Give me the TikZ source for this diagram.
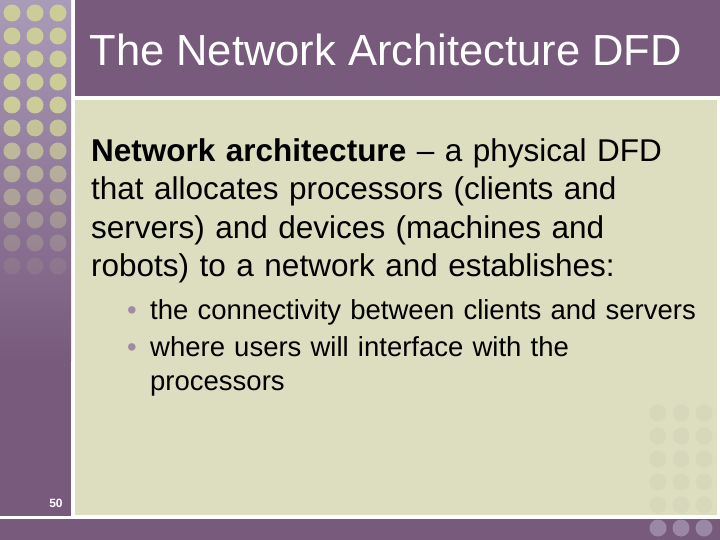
\documentclass[tikz,border=0pt]{standalone}
\usepackage{fontspec}
\setmainfont{Liberation Sans}
\usetikzlibrary{positioning}
\definecolor{plum}{RGB}{120,90,125}
\definecolor{lilac}{RGB}{170,155,185}
\definecolor{paper}{RGB}{221,221,192}
\definecolor{dotgreen}{RGB}{204,204,153}
\newcommand{\bul}{\makebox[23bp][l]{\color{plum!70}\textbullet}}
\begin{document}
\begin{tikzpicture}[x=1bp,y=-1bp,
    spot/.style={circle, inner sep=0pt, minimum size=17bp},
    bodytext/.style={anchor=north west, inner sep=0pt, align=left, font=\fontsize{31.5bp}{38.5bp}\selectfont},
    bullettext/.style={anchor=north west, inner sep=0pt, align=left, font=\fontsize{27.5bp}{34bp}\selectfont}
]
\useasboundingbox (0,0) rectangle (720,540);
\fill[white] (0,0) rectangle (720,540);
% side strip
\shade[top color=lilac, bottom color=plum] (0,0) rectangle (71,360);
\fill[plum] (0,359) rectangle (71,516);
\foreach \r in {0,...,13}{
  \pgfmathsetmacro{\op}{max(0,1-max(0,\r-4)/8)}
  \foreach \c in {0,1,2}
    \node[spot, fill=dotgreen, fill opacity=\op] at (12+23*\c,13+23*\r) {};
}
% title bar and panel
\fill[plum] (75,0) rectangle (720,96);
\fill[paper] (75,100) rectangle (717,515);
\foreach \r in {0,...,4}
  \foreach \c in {0,1,2}
    \node[spot, fill=black!2.5!paper] at (658+23*\c,413+23*\r) {};
\fill[plum] (0,519) rectangle (720,540);
\foreach \c in {0,1,2}
  \node[spot, fill=lilac!70!plum] at (658+23*\c,528) {};
% texts
\node[anchor=west, text=white, font=\fontsize{43.5bp}{48bp}\selectfont] (title) at (86,50) {The Network Architecture DFD};
\node[bodytext, text width=625bp] (intro) at (91,138) {\textbf{Network architecture} -- a physical DFD\\that allocates processors (clients and\\servers) and devices (machines and\\robots) to a network and establishes:};
\node[bullettext, text width=590bp] (first) at (127,299) {\bul the connectivity between clients and servers};
\node[bullettext, text width=590bp, below=11bp of first.south west, anchor=north west] (second) {\bul where users will interface with the\\\hspace*{23bp}processors};
\node[text=white, font=\bfseries\fontsize{12bp}{14bp}\selectfont] (page) at (56,503) {50};
\end{tikzpicture}
\end{document}
